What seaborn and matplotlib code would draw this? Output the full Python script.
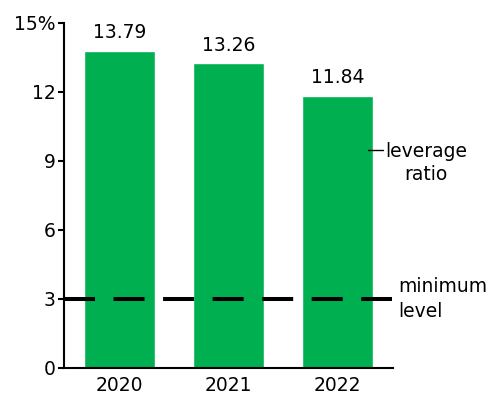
import pandas as pd
import seaborn as sns
import matplotlib.pyplot as plt

years = ["2020", "2021", "2022"]
leverage = [13.79, 13.26, 11.84]
minimum_level = 3
yticks = [0, 3, 6, 9, 12, 15]
ytick_labels = ["0", "3", "6", "9", "12", "15%"]

data = pd.DataFrame({"year": years, "ratio": leverage})

sns.set_theme(style="white")
plt.rcParams["font.family"] = ["DejaVu Sans"]
fs = 13.5

fig = plt.figure(figsize=(4.98, 3.94), dpi=100)
ax = fig.add_axes([0.1285, 0.0660, 0.6605, 0.876])

sns.barplot(data=data, x="year", y="ratio", color="#00B050", saturation=1,
            width=0.65, ax=ax)

for c in ax.containers:
    ax.bar_label(c, fmt="%.2f", padding=6, fontsize=fs, color="black")

ax.axhline(minimum_level, color="black", linewidth=2.9, linestyle=(0, (7.7, 4.6)),
           xmin=0, xmax=0.997)

ax.set_xlim(-0.509, 2.509)
ax.set_ylim(0, 15)
ax.set_yticks(yticks)
ax.set_yticklabels(ytick_labels)
ax.set_xlabel("")
ax.set_ylabel("")

sns.despine(ax=ax)
for s in ["left", "bottom"]:
    ax.spines[s].set_color("black")
    ax.spines[s].set_linewidth(1.5)
ax.tick_params(axis="y", left=True, length=4, width=1.5, color="black",
               labelsize=fs, labelcolor="black", pad=2)
ax.tick_params(axis="x", bottom=False, labelsize=fs, labelcolor="black", pad=0)

# series label
lev_y = 9.46
ax.plot([2.28, 2.42], [lev_y, lev_y], color="black", linewidth=1, clip_on=False)
ax.text(2.435, lev_y + 0.38, "leverage\nratio", ha="left", va="top",
        multialignment="center", fontsize=fs, linespacing=1.3,
        color="black", clip_on=False)

ax.text(2.555, minimum_level, "minimum\nlevel", ha="left", va="center",
        fontsize=fs, linespacing=1.45, color="black", clip_on=False)

fig.savefig("out.png", dpi=100)
